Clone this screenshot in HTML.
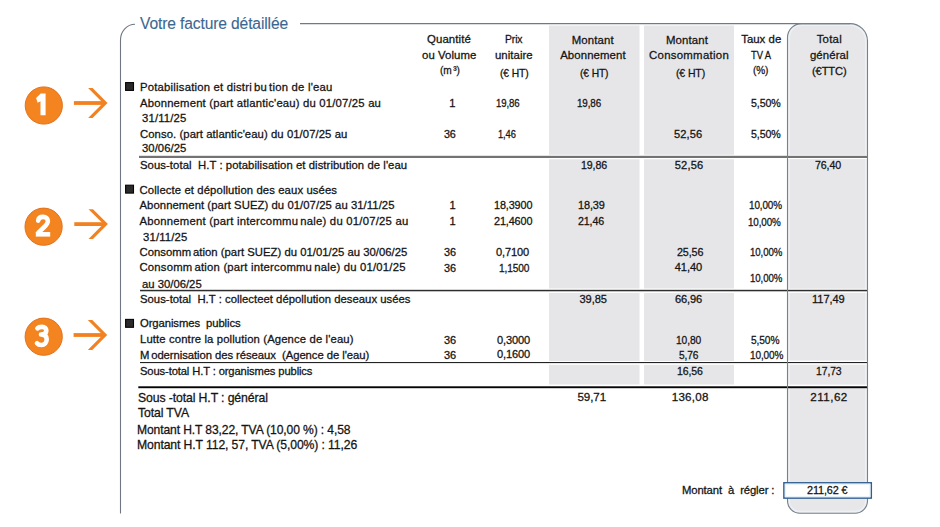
<!DOCTYPE html>
<html><head><meta charset="utf-8"><title>Votre facture détaillée</title>
<style>
html,body{margin:0;padding:0;background:#fff;}
body{width:940px;height:527px;position:relative;overflow:hidden;font-family:"Liberation Sans",sans-serif;color:#141414;}
.t{position:absolute;white-space:pre;line-height:1;-webkit-text-stroke-width:0.28px;}
.r{position:absolute;}
svg{position:absolute;left:0;top:0;}
.dg{position:absolute;width:20px;text-align:center;font-weight:bold;font-size:32px;line-height:32px;color:#fff;-webkit-text-stroke:0.8px #fff;}
</style></head><body>
<svg width="940" height="527" viewBox="0 0 940 527">
  <!-- gray columns -->
  <rect x="549" y="25.5" width="90.5" height="359" fill="#e6e6e9"/>
  <rect x="644" y="25.5" width="90" height="359" fill="#e6e6e9"/>
  <!-- total column -->
  <path d="M787.5,37.6 A14,14 0 0 1 801.5,23.6 L850,23.6 A17.5,17.5 0 0 1 867.5,41.1 L867.5,500.8 A12.5,12.5 0 0 1 855,513.3 L800,513.3 A12.5,12.5 0 0 1 787.5,500.8 Z" fill="#e7e7e9"/>
  <path d="M789.2,37.6 A12.3,12.3 0 0 1 801.5,25.3 L850,25.3 A15.8,15.8 0 0 1 865.8,41.1 L865.8,500.8 A10.8,10.8 0 0 1 855,511.6 L800,511.6 A10.8,10.8 0 0 1 789.2,500.8 Z" fill="none" stroke="#ecf1f6" stroke-width="1.6"/>
  <!-- white gaps around lines in gray cols -->
  <rect x="549" y="154.8" width="185" height="4.5" fill="#fff"/>
  <rect x="549" y="288.5" width="185" height="4.5" fill="#fff"/>
  <rect x="549" y="361" width="185" height="3.8" fill="#fff"/>
  <rect x="788" y="154.9" width="79" height="4.2" fill="#fff"/>
  <rect x="788" y="288.7" width="79" height="4.2" fill="#fff"/>
  <rect x="788" y="360.6" width="79" height="4" fill="#fff"/>
  <rect x="788" y="384.6" width="79" height="1.8" fill="#fff"/>
  <!-- frame -->
  <path d="M135,24.3 A14.5,15.8 0 0 0 120.5,40.1 L120.5,513.5" fill="none" stroke="#707780" stroke-width="1.1"/>
  <line x1="300" y1="23.6" x2="850" y2="23.6" stroke="#6c7b89" stroke-width="1.2"/>
  <!-- row lines -->
  <rect x="139" y="155.8" width="728.5" height="2.2" fill="#737373"/>
  <rect x="140" y="289.8" width="727.5" height="1.5" fill="#2e2e2e"/>
  <rect x="140" y="362" width="727.5" height="1.1" fill="#222"/>
  <rect x="138.3" y="386.3" width="729.2" height="1.9" fill="#050505"/>
  <path d="M787.5,37.6 A14,14 0 0 1 801.5,23.6 L850,23.6 A17.5,17.5 0 0 1 867.5,41.1 L867.5,500.8 A12.5,12.5 0 0 1 855,513.3 L800,513.3 A12.5,12.5 0 0 1 787.5,500.8 Z" fill="none" stroke="#78808a" stroke-width="1.1"/>
  <!-- bullets -->
  <g fill="#2a2a2a" stroke="#050505" stroke-width="1.1">
    <rect x="125.6" y="82.6" width="7.9" height="7.8"/>
    <rect x="125.6" y="185.2" width="7.9" height="7.9"/>
    <rect x="125.6" y="319.4" width="7.9" height="7.9"/>
  </g>
  <!-- orange markers -->
  <g fill="#f38420" stroke="#e3711c" stroke-width="1">
    <circle cx="43.8" cy="105.5" r="18.6"/>
    <circle cx="43.6" cy="226.7" r="18.6"/>
    <circle cx="43.7" cy="336.7" r="18.6"/>
  </g>
  <g fill="#f28221">
    <g transform="translate(107.5,103)"><rect x="-33.6" y="-1.9" width="30" height="3.8"/><polygon points="-19.4,-14.9 -14.9,-14.9 0,0 -14.9,14.9 -19.4,14.9 -4.5,0"/></g>
    <g transform="translate(107.9,224.1)"><rect x="-33.6" y="-1.9" width="30" height="3.8"/><polygon points="-19.4,-14.9 -14.9,-14.9 0,0 -14.9,14.9 -19.4,14.9 -4.5,0"/></g>
    <g transform="translate(107.2,335)"><rect x="-33.6" y="-1.9" width="30" height="3.8"/><polygon points="-19.4,-14.9 -14.9,-14.9 0,0 -14.9,14.9 -19.4,14.9 -4.5,0"/></g>
  </g>
  <!-- digits -->
  <g fill="#fff">
    <path d="M40.7,93.6 L45.6,93.6 L45.6,115.2 L40.5,115.2 L40.5,101.2 L37.6,102.8 L36.1,98.0 Z"/>
  </g>
  <g fill="none" stroke="#fff" stroke-width="4.6">
    <path d="M38.2,220.6 C38.4,218.2 40.4,216.9 43.1,216.9 C45.9,216.9 47.9,218.6 47.9,221.1 C47.9,223.6 46.3,225.2 44,227.3 L38.2,232.8" stroke-linecap="round"/>
    <path d="M37.4,328.4 C38.4,327.3 40.2,326.9 42,326.9 C44.9,326.9 46.3,328.6 46.3,330.6 C46.3,333.0 44.6,334.5 41.8,334.5 M41.0,334.5 C45.0,334.5 46.7,336.5 46.7,339.3 C46.7,342.6 44.5,345.0 41.4,345.0 C39.5,345.0 38.0,344.5 37.0,343.3" stroke-linecap="round"/>
  </g>
  <rect x="35.8" y="232" width="14.4" height="4.6" fill="#fff"/>
  <!-- montant a regler box -->
  <rect x="783.9" y="482.8" width="87.4" height="15.3" fill="#fff" stroke="#2f5f90" stroke-width="1.5"/>
  <rect x="785.3" y="484.2" width="84.6" height="12.5" fill="none" stroke="#e3f0fb" stroke-width="1"/>
</svg>
<div class="t" style="left:139.50px;top:16.19px;font-size:15.6px;letter-spacing:-0.120px;transform:scaleX(0.9998);transform-origin:0.00px 0;color:#3c6790;-webkit-text-stroke-width:0.1px;">Votre facture détaillée</div>
<div class="t" style="left:427.00px;top:34.35px;font-size:11.4px;letter-spacing:0.111px;">Quantité</div>
<div class="t" style="left:422.00px;top:50.05px;font-size:11.4px;letter-spacing:0.064px;">ou Volume</div>
<div class="t" style="left:439.80px;top:64.85px;font-size:11.4px;letter-spacing:-0.120px;transform:scaleX(0.8892);transform-origin:0.00px 0;">(m ³)</div>
<div class="t" style="left:505.00px;top:34.35px;font-size:11.4px;letter-spacing:-0.120px;transform:scaleX(0.9100);transform-origin:0.00px 0;">Prix</div>
<div class="t" style="left:495.00px;top:50.05px;font-size:11.4px;letter-spacing:0.039px;">unitaire</div>
<div class="t" style="left:499.90px;top:68.03px;font-size:10.6px;letter-spacing:-0.120px;transform:scaleX(0.9728);transform-origin:0.00px 0;">(€ HT)</div>
<div class="t" style="left:571.70px;top:34.55px;font-size:11.4px;letter-spacing:0.135px;">Montant</div>
<div class="t" style="left:560.20px;top:50.05px;font-size:11.4px;letter-spacing:0.086px;">Abonnement</div>
<div class="t" style="left:579.70px;top:68.33px;font-size:10.6px;letter-spacing:-0.120px;transform:scaleX(0.9694);transform-origin:0.00px 0;">(€ HT)</div>
<div class="t" style="left:666.00px;top:34.55px;font-size:11.4px;letter-spacing:0.135px;">Montant</div>
<div class="t" style="left:649.00px;top:50.05px;font-size:11.4px;letter-spacing:0.285px;">Consommation</div>
<div class="t" style="left:676.00px;top:68.33px;font-size:10.6px;letter-spacing:-0.120px;transform:scaleX(0.9902);transform-origin:0.00px 0;">(€ HT)</div>
<div class="t" style="left:741.20px;top:34.35px;font-size:11.4px;letter-spacing:0.023px;">Taux de</div>
<div class="t" style="left:750.60px;top:50.05px;font-size:11.4px;letter-spacing:-0.120px;transform:scaleX(0.8241);transform-origin:0.00px 0;">TV A</div>
<div class="t" style="left:752.70px;top:65.35px;font-size:11.4px;letter-spacing:-0.120px;transform:scaleX(0.8823);transform-origin:0.00px 0;">(%)</div>
<div class="t" style="left:816.70px;top:34.35px;font-size:11.4px;letter-spacing:0.243px;">Total</div>
<div class="t" style="left:809.90px;top:50.05px;font-size:11.4px;letter-spacing:0.105px;">général</div>
<div class="t" style="left:811.50px;top:65.65px;font-size:11.4px;letter-spacing:-0.120px;transform:scaleX(0.9784);transform-origin:0.00px 0;">(€TTC)</div>
<div class="t" style="left:140.00px;top:82.03px;font-size:11.3px;letter-spacing:0.216px;">Potabilisation et distri bu tion de l'eau</div>
<div class="t" style="left:140.00px;top:97.83px;font-size:11.3px;letter-spacing:0.187px;">Abonnement (part atlantic'eau) du 01/07/25 au</div>
<div class="t" style="left:142.00px;top:112.63px;font-size:11.3px;letter-spacing:0.164px;">31/11/25</div>
<div class="t" style="left:140.00px;top:128.93px;font-size:11.3px;letter-spacing:0.073px;">Conso. (part atlantic'eau) du 01/07/25 au</div>
<div class="t" style="left:142.00px;top:143.23px;font-size:11.3px;letter-spacing:0.044px;">30/06/25</div>
<div class="t" style="left:140.00px;top:159.73px;font-size:11.3px;letter-spacing:0.070px;">Sous-total  H.T : potabilisation et distribution de l'eau</div>
<div class="t" style="left:449.30px;top:98.00px;font-size:11.1px;letter-spacing:0.000px;">1</div>
<div class="t" style="left:495.50px;top:98.00px;font-size:11.1px;letter-spacing:-0.120px;transform:scaleX(0.8668);transform-origin:0.00px 0;">19,86</div>
<div class="t" style="left:577.40px;top:98.00px;font-size:11.1px;letter-spacing:-0.120px;transform:scaleX(0.8852);transform-origin:0.00px 0;">19,86</div>
<div class="t" style="left:750.60px;top:98.00px;font-size:11.1px;letter-spacing:-0.120px;transform:scaleX(0.9578);transform-origin:0.00px 0;">5,50%</div>
<div class="t" style="left:444.00px;top:129.10px;font-size:11.1px;letter-spacing:-0.120px;transform:scaleX(0.9710);transform-origin:0.00px 0;">36</div>
<div class="t" style="left:498.30px;top:129.10px;font-size:11.1px;letter-spacing:-0.120px;transform:scaleX(0.8404);transform-origin:0.00px 0;">1,46</div>
<div class="t" style="left:674.00px;top:129.10px;font-size:11.1px;letter-spacing:0.102px;">52,56</div>
<div class="t" style="left:750.60px;top:129.10px;font-size:11.1px;letter-spacing:-0.120px;transform:scaleX(0.9578);transform-origin:0.00px 0;">5,50%</div>
<div class="t" style="left:581.00px;top:160.10px;font-size:11.1px;letter-spacing:-0.120px;transform:scaleX(0.9590);transform-origin:0.00px 0;">19,86</div>
<div class="t" style="left:674.80px;top:160.10px;font-size:11.1px;letter-spacing:0.152px;">52,56</div>
<div class="t" style="left:814.50px;top:160.10px;font-size:11.1px;letter-spacing:-0.120px;transform:scaleX(0.9590);transform-origin:0.00px 0;">76,40</div>
<div class="t" style="left:139.50px;top:184.73px;font-size:11.3px;letter-spacing:0.109px;">Collecte et dépollution des eaux usées</div>
<div class="t" style="left:139.50px;top:200.13px;font-size:11.3px;letter-spacing:0.061px;">Abonnement (part SUEZ) du 01/07/25 au 31/11/25</div>
<div class="t" style="left:139.50px;top:215.73px;font-size:11.3px;letter-spacing:0.225px;">Abonnement (part intercommu nale) du 01/07/25 au</div>
<div class="t" style="left:143.00px;top:231.93px;font-size:11.3px;letter-spacing:0.164px;">31/11/25</div>
<div class="t" style="left:139.50px;top:246.93px;font-size:11.3px;letter-spacing:0.019px;">Consomm ation (part SUEZ) du 01/01/25 au 30/06/25</div>
<div class="t" style="left:139.50px;top:261.73px;font-size:11.3px;letter-spacing:0.208px;">Consomm ation (part intercommu nale) du 01/01/25</div>
<div class="t" style="left:142.00px;top:278.93px;font-size:11.3px;letter-spacing:0.000px;">au 30/06/25</div>
<div class="t" style="left:140.00px;top:294.13px;font-size:11.3px;letter-spacing:0.024px;">Sous-total  H.T : collecteet dépollution deseaux usées</div>
<div class="t" style="left:449.60px;top:200.30px;font-size:11.1px;letter-spacing:0.000px;">1</div>
<div class="t" style="left:494.00px;top:200.30px;font-size:11.1px;letter-spacing:-0.120px;transform:scaleX(0.9768);transform-origin:0.00px 0;">18,3900</div>
<div class="t" style="left:578.30px;top:200.30px;font-size:11.1px;letter-spacing:-0.120px;transform:scaleX(0.9848);transform-origin:0.00px 0;">18,39</div>
<div class="t" style="left:748.60px;top:200.40px;font-size:11.1px;letter-spacing:-0.120px;transform:scaleX(0.8934);transform-origin:0.00px 0;">10,00%</div>
<div class="t" style="left:449.60px;top:215.90px;font-size:11.1px;letter-spacing:0.000px;">1</div>
<div class="t" style="left:494.00px;top:215.90px;font-size:11.1px;letter-spacing:-0.120px;transform:scaleX(0.9768);transform-origin:0.00px 0;">21,4600</div>
<div class="t" style="left:578.30px;top:215.90px;font-size:11.1px;letter-spacing:-0.120px;transform:scaleX(0.9590);transform-origin:0.00px 0;">21,46</div>
<div class="t" style="left:748.00px;top:216.60px;font-size:11.1px;letter-spacing:-0.120px;transform:scaleX(0.8880);transform-origin:0.00px 0;">10,00%</div>
<div class="t" style="left:444.00px;top:247.20px;font-size:11.1px;letter-spacing:-0.120px;transform:scaleX(0.9793);transform-origin:0.00px 0;">36</div>
<div class="t" style="left:495.90px;top:247.20px;font-size:11.1px;letter-spacing:-0.120px;transform:scaleX(0.9951);transform-origin:0.00px 0;">0,7100</div>
<div class="t" style="left:676.70px;top:247.40px;font-size:11.1px;letter-spacing:-0.120px;transform:scaleX(0.9701);transform-origin:0.00px 0;">25,56</div>
<div class="t" style="left:750.00px;top:247.40px;font-size:11.1px;letter-spacing:-0.120px;transform:scaleX(0.8719);transform-origin:0.00px 0;">10,00%</div>
<div class="t" style="left:444.00px;top:262.50px;font-size:11.1px;letter-spacing:-0.120px;transform:scaleX(0.9793);transform-origin:0.00px 0;">36</div>
<div class="t" style="left:498.60px;top:262.50px;font-size:11.1px;letter-spacing:-0.120px;transform:scaleX(0.9137);transform-origin:0.00px 0;">1,1500</div>
<div class="t" style="left:674.80px;top:261.80px;font-size:11.1px;letter-spacing:-0.098px;">41,40</div>
<div class="t" style="left:750.00px;top:272.90px;font-size:11.1px;letter-spacing:-0.120px;transform:scaleX(0.8719);transform-origin:0.00px 0;">10,00%</div>
<div class="t" style="left:579.50px;top:294.40px;font-size:11.1px;letter-spacing:-0.073px;">39,85</div>
<div class="t" style="left:675.30px;top:294.20px;font-size:11.1px;letter-spacing:-0.120px;transform:scaleX(0.9996);transform-origin:0.00px 0;">66,96</div>
<div class="t" style="left:812.00px;top:294.20px;font-size:11.1px;letter-spacing:-0.068px;">117,49</div>
<div class="t" style="left:140.00px;top:318.13px;font-size:11.3px;letter-spacing:-0.094px;">Organismes  publics</div>
<div class="t" style="left:140.00px;top:334.13px;font-size:11.3px;letter-spacing:0.127px;">Lutte contre la pollution (Agence de l'eau)</div>
<div class="t" style="left:140.00px;top:349.93px;font-size:11.3px;letter-spacing:-0.064px;">M odernisation des réseaux  (Agence de l'eau)</div>
<div class="t" style="left:140.00px;top:365.93px;font-size:11.3px;letter-spacing:-0.120px;transform:scaleX(0.9909);transform-origin:0.00px 0;">Sous-total H.T : organismes publics</div>
<div class="t" style="left:443.80px;top:334.60px;font-size:11.1px;letter-spacing:-0.120px;transform:scaleX(0.9876);transform-origin:0.00px 0;">36</div>
<div class="t" style="left:496.60px;top:335.10px;font-size:11.1px;letter-spacing:-0.120px;transform:scaleX(0.9951);transform-origin:0.00px 0;">0,3000</div>
<div class="t" style="left:676.00px;top:334.60px;font-size:11.1px;letter-spacing:-0.120px;transform:scaleX(0.9221);transform-origin:0.00px 0;">10,80</div>
<div class="t" style="left:751.40px;top:334.60px;font-size:11.1px;letter-spacing:-0.120px;transform:scaleX(0.9193);transform-origin:0.00px 0;">5,50%</div>
<div class="t" style="left:443.80px;top:350.20px;font-size:11.1px;letter-spacing:-0.120px;transform:scaleX(0.9876);transform-origin:0.00px 0;">36</div>
<div class="t" style="left:496.60px;top:349.40px;font-size:11.1px;letter-spacing:-0.120px;transform:scaleX(0.9951);transform-origin:0.00px 0;">0,1600</div>
<div class="t" style="left:679.00px;top:349.80px;font-size:11.1px;letter-spacing:-0.120px;transform:scaleX(0.9163);transform-origin:0.00px 0;">5,76</div>
<div class="t" style="left:749.50px;top:349.80px;font-size:11.1px;letter-spacing:-0.120px;transform:scaleX(0.9015);transform-origin:0.00px 0;">10,00%</div>
<div class="t" style="left:676.70px;top:365.90px;font-size:11.1px;letter-spacing:-0.120px;transform:scaleX(0.9479);transform-origin:0.00px 0;">16,56</div>
<div class="t" style="left:816.40px;top:365.90px;font-size:11.1px;letter-spacing:-0.120px;transform:scaleX(0.9406);transform-origin:0.00px 0;">17,73</div>
<div class="t" style="left:137.70px;top:391.85px;font-size:12.7px;letter-spacing:-0.120px;transform:scaleX(0.9663);transform-origin:0.00px 0;">Sous -total H.T : général</div>
<div class="t" style="left:137.70px;top:407.05px;font-size:12.7px;letter-spacing:-0.120px;transform:scaleX(0.9658);transform-origin:0.00px 0;">Total TVA</div>
<div class="t" style="left:136.70px;top:424.25px;font-size:12.7px;letter-spacing:-0.120px;transform:scaleX(0.9534);transform-origin:1.00px 0;">Montant H.T 83,22, TVA (10,00 %) : 4,58</div>
<div class="t" style="left:136.70px;top:439.05px;font-size:12.7px;letter-spacing:-0.120px;transform:scaleX(0.9616);transform-origin:1.00px 0;">Montant H.T 112, 57, TVA (5,00%) : 11,26</div>
<div class="t" style="left:577.40px;top:391.08px;font-size:11.6px;letter-spacing:-0.066px;">59,71</div>
<div class="t" style="left:671.70px;top:390.88px;font-size:11.6px;letter-spacing:0.257px;">136,08</div>
<div class="t" style="left:810.30px;top:390.88px;font-size:11.6px;letter-spacing:0.470px;">211,62</div>
<div class="t" style="left:681.60px;top:485.43px;font-size:11.3px;letter-spacing:-0.120px;transform:scaleX(0.9990);transform-origin:0.00px 0;">Montant  à  régler :</div>
<div class="t" style="left:807.20px;top:485.43px;font-size:11.3px;letter-spacing:-0.120px;transform:scaleX(0.9602);transform-origin:0.00px 0;">211,62 €</div>
</body></html>
